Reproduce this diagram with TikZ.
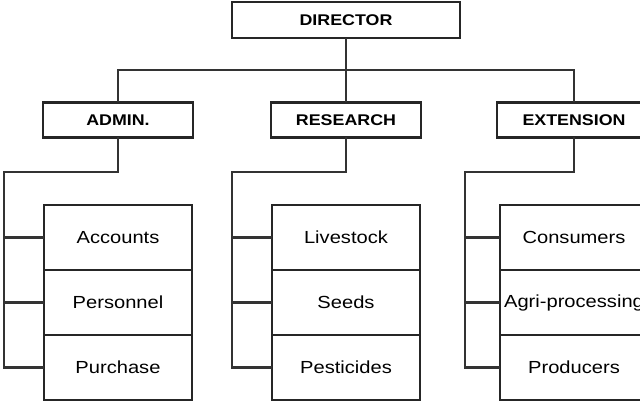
\documentclass[tikz,border=0pt]{standalone}
\usepackage{fontspec}
\setmainfont{Liberation Sans}[FakeStretch=1.15]
\usetikzlibrary{positioning}

\tikzstyle{head} = [rectangle, draw=black!85, line width=2.6pt, fill=white, minimum width=150pt, minimum height=35pt, inner sep=0pt, outer sep=0pt, font=\fontsize{15.5}{18}\selectfont\bfseries]
\tikzstyle{unit} = [rectangle, draw=black!85, line width=2.6pt, fill=white, minimum width=148pt, minimum height=65pt, inner sep=0pt, outer sep=0pt, font=\fontsize{17.5}{20}\selectfont]
\tikzstyle{line} = [draw=black!80, line width=2.4pt]

\begin{document}
\begin{tikzpicture}[x=1pt, y=-1pt, node distance = 228pt]

    \useasboundingbox (0,0) rectangle (640,403);

    % Director
    \node [head, minimum width=228pt, minimum height=36pt] (director) at (346,20) {DIRECTOR};

    % second level
    \node [head] (admin) at (118,120) {ADMIN.};
    \node [head, right of=admin] (research) {RESEARCH};
    \node [head, right of=research, minimum width=154pt] (extension) {EXTENSION};

    % admin units
    \node [unit] (accounts) at (118,237.5) {Accounts};
    \node [unit, below=0pt of accounts] (personnel) {Personnel};
    \node [unit, below=0pt of personnel] (purchase) {Purchase};

    % research units
    \node [unit] (livestock) at (346,237.5) {Livestock};
    \node [unit, below=0pt of livestock] (seeds) {Seeds};
    \node [unit, below=0pt of seeds] (pesticides) {Pesticides};

    % extension units
    \node [unit] (consumers) at (574,237.5) {Consumers};
    \node [unit, below=0pt of consumers] (agri) {Agri-processing};
    \node [unit, below=0pt of agri] (producers) {Producers};

    % bus and rails
    \coordinate (bus) at (346,70);
    \coordinate (arail) at (4,172);
    \coordinate (rrail) at (232,172);
    \coordinate (erail) at (465,172);

    % Path
    \path[line] (director.south) -- (bus);
    \path[line] (admin.north) |- (bus) -| (extension.north);
    \path[line] (bus) -- (research.north);

    \path[line] (admin.south) |- (arail) |- (purchase.west);
    \path[line] (arail |- accounts.west) -- (accounts.west);
    \path[line] (arail |- personnel.west) -- (personnel.west);

    \path[line] (research.south) |- (rrail) |- (pesticides.west);
    \path[line] (rrail |- livestock.west) -- (livestock.west);
    \path[line] (rrail |- seeds.west) -- (seeds.west);

    \path[line] (extension.south) |- (erail) |- (producers.west);
    \path[line] (erail |- consumers.west) -- (consumers.west);
    \path[line] (erail |- agri.west) -- (agri.west);

\end{tikzpicture}
\end{document}
